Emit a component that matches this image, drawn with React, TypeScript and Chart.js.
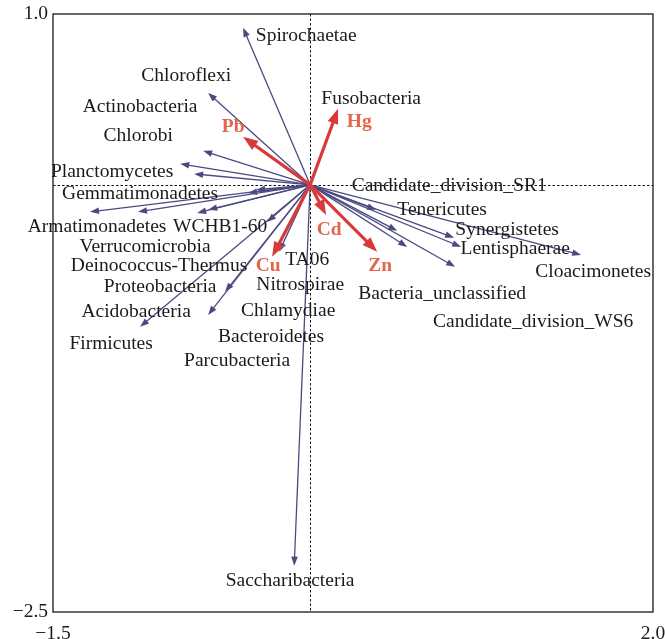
import React, { useEffect, useRef } from "react";
import { Chart, registerables } from "chart.js";

Chart.register(...registerables);

// Axis range / tick labels
const xRange = [-1.5, 2.0];
const yRange = [-2.5, 1.0];

// Species (blue) arrow tips, RDA axis 1 / axis 2
const speciesTipX = [-0.391, -0.595, -0.624, -0.758, -0.677, -0.362, -0.315, -1.284, -1.004, -0.659, -0.595, -0.251, -0.496, -0.595, -0.992, -0.181, 0.385, 0.508, 0.566, 0.84, 0.881, 0.846, 1.581, -0.093];
const speciesTipY = [0.919, 0.538, 0.199, 0.123, 0.064, -0.047, -0.029, -0.158, -0.158, -0.164, -0.146, -0.217, -0.626, -0.761, -0.831, -0.392, -0.146, -0.269, -0.363, -0.31, -0.363, -0.48, -0.41, -2.229];

// Species labels
const speciesNames = [
  "Spirochaetae", "Chloroflexi", "Fusobacteria", "Actinobacteria", "Chlorobi",
  "Planctomycetes", "Gemmatimonadetes", "Candidate_division_SR1", "Tenericutes",
  "Synergistetes", "Lentisphaerae", "Cloacimonetes", "Armatimonadetes", "WCHB1-60",
  "Verrucomicrobia", "Deinococcus-Thermus", "Proteobacteria", "Acidobacteria",
  "Firmicutes", "TA06", "Nitrospirae", "Chlamydiae", "Bacteroidetes", "Parcubacteria",
  "Bacteria_unclassified", "Candidate_division_WS6", "Saccharibacteria",
];
const speciesLabelX = [-0.023, -0.723, 0.356, -0.992, -1.003, -1.155, -0.992, 0.811, 0.77, 1.149, 1.196, 1.651, -1.243, -0.525, -0.963, -0.881, -0.875, -1.015, -1.161, -0.017, -0.058, -0.128, -0.228, -0.426, 0.77, 1.301, -0.117];
const speciesLabelY = [0.872, 0.638, 0.503, 0.456, 0.287, 0.076, -0.053, -0.006, -0.146, -0.263, -0.375, -0.509, -0.246, -0.246, -0.363, -0.474, -0.597, -0.743, -0.93, -0.439, -0.585, -0.737, -0.889, -1.03, -0.638, -0.802, -2.317];

// Heavy metals (red) arrows
const metalNames = ["Pb", "Hg", "Cd", "Zn", "Cu"];
const metalTipX = [-0.391, 0.163, 0.093, 0.391, -0.222];
const metalTipY = [0.281, 0.445, -0.176, -0.392, -0.421];
const metalLabelX = [-0.449, 0.286, 0.111, 0.408, -0.245];
const metalLabelY = [0.339, 0.369, -0.263, -0.474, -0.474];

const FONT = '"Liberation Serif", "Times New Roman", serif';
const BLUE = "#4b4a80";
const RED = "#d8393a";
const RED_TEXT = "#e3664b";

const fmt = (v: number) => (v < 0 ? "\u2212" : "") + Math.abs(v).toFixed(1);

function drawArrow(ctx: CanvasRenderingContext2D, x0: number, y0: number, x1: number, y1: number, color: string, lw: number, headLen: number, headHalf: number) {
  const ang = Math.atan2(y1 - y0, x1 - x0);
  const bx = x1 - headLen * Math.cos(ang);
  const by = y1 - headLen * Math.sin(ang);
  ctx.save();
  ctx.strokeStyle = color;
  ctx.fillStyle = color;
  ctx.lineWidth = lw;
  ctx.beginPath();
  ctx.moveTo(x0, y0);
  ctx.lineTo(bx + 0.3 * headLen * Math.cos(ang), by + 0.3 * headLen * Math.sin(ang));
  ctx.stroke();
  ctx.beginPath();
  ctx.moveTo(x1, y1);
  ctx.lineTo(bx + headHalf * Math.sin(ang), by - headHalf * Math.cos(ang));
  ctx.lineTo(bx - headHalf * Math.sin(ang), by + headHalf * Math.cos(ang));
  ctx.closePath();
  ctx.fill();
  ctx.restore();
}

const biplotPlugin = {
  id: "biplot",
  beforeDatasetsDraw(chart: any) {
    const { ctx, chartArea, scales } = chart;
    const x0 = scales.x.getPixelForValue(0);
    const y0 = scales.y.getPixelForValue(0);
    ctx.save();
    ctx.strokeStyle = "#111";
    ctx.lineWidth = 1;
    ctx.setLineDash([2.5, 2]);
    ctx.beginPath();
    ctx.moveTo(Math.round(x0) + 0.5, chartArea.top);
    ctx.lineTo(Math.round(x0) + 0.5, chartArea.bottom);
    ctx.moveTo(chartArea.left, Math.round(y0) + 0.5);
    ctx.lineTo(chartArea.right, Math.round(y0) + 0.5);
    ctx.stroke();
    ctx.restore();
  },
  afterDatasetsDraw(chart: any) {
    const { ctx, chartArea, scales } = chart;
    const sx = scales.x, sy = scales.y;
    const x0 = sx.getPixelForValue(0);
    const y0 = sy.getPixelForValue(0);

    // frame
    ctx.save();
    ctx.strokeStyle = "#1a1a1a";
    ctx.lineWidth = 1.3;
    ctx.strokeRect(chartArea.left, chartArea.top, chartArea.right - chartArea.left, chartArea.bottom - chartArea.top);
    ctx.restore();

    // species arrows
    const metaS = chart.getDatasetMeta(0);
    metaS.data.forEach((pt: any) => {
      drawArrow(ctx, x0, y0, pt.x, pt.y, BLUE, 1.3, 9, 3.3);
    });
    // metal arrows
    const metaM = chart.getDatasetMeta(1);
    metaM.data.forEach((pt: any) => {
      drawArrow(ctx, x0, y0, pt.x, pt.y, RED, 3.2, 15, 5.5);
    });

    // labels
    ctx.save();
    ctx.textAlign = "center";
    ctx.textBaseline = "middle";
    ctx.fillStyle = "#1a1a1a";
    ctx.font = `19.5px ${FONT}`;
    speciesNames.forEach((n, i) => {
      ctx.fillText(n, sx.getPixelForValue(speciesLabelX[i]), sy.getPixelForValue(speciesLabelY[i]));
    });
    ctx.fillStyle = RED_TEXT;
    ctx.font = `bold 19.5px ${FONT}`;
    metalNames.forEach((n, i) => {
      ctx.fillText(n, sx.getPixelForValue(metalLabelX[i]), sy.getPixelForValue(metalLabelY[i]));
    });
    ctx.restore();
  },
};

export default function App() {
  const ref = useRef<HTMLCanvasElement | null>(null);
  useEffect(() => {
    if (!ref.current) return;
    const tickFont = { family: FONT, size: 19.5 };
    const chart = new Chart(ref.current, {
      type: "scatter",
      data: {
        datasets: [
          {
            label: "species",
            data: speciesTipX.map((x, i) => ({ x, y: speciesTipY[i] })),
            pointRadius: 0,
            showLine: false,
          },
          {
            label: "metals",
            data: metalTipX.map((x, i) => ({ x, y: metalTipY[i] })),
            pointRadius: 0,
            showLine: false,
          },
        ],
      },
      options: {
        animation: false,
        responsive: false,
        events: [],
        layout: { padding: { top: 14, right: 12, left: 0, bottom: 0 } },
        plugins: { legend: { display: false }, tooltip: { enabled: false } },
        scales: {
          x: {
            type: "linear",
            min: xRange[0],
            max: xRange[1],
            grid: { display: false, drawTicks: false },
            border: { display: false },
            afterBuildTicks: (s: any) => {
              s.ticks = xRange.map((v) => ({ value: v }));
            },
            afterFit: (s: any) => {
              s.height = 27;
              s.paddingLeft = 0;
              s.paddingRight = 0;
            },
            ticks: { padding: 10, color: "#1a1a1a", font: tickFont, maxRotation: 0, autoSkip: false, callback: (v: any) => fmt(Number(v)) },
          },
          y: {
            type: "linear",
            min: yRange[0],
            max: yRange[1],
            grid: { display: false, drawTicks: false },
            border: { display: false },
            afterBuildTicks: (s: any) => {
              s.ticks = yRange.map((v) => ({ value: v }));
            },
            afterFit: (s: any) => {
              s.width = 53;
              s.paddingTop = 0;
              s.paddingBottom = 0;
            },
            ticks: { padding: 5, color: "#1a1a1a", font: tickFont, autoSkip: false, callback: (v: any) => fmt(Number(v)) },
          },
        },
      },
      plugins: [biplotPlugin],
    } as any);
    return () => chart.destroy();
  }, []);
  return (
    <div style={{ position: "fixed", left: 0, top: 0, width: 665, height: 639, background: "#fff" }}>
      <canvas ref={ref} width={665} height={639} style={{ display: "block" }} />
    </div>
  );
}
